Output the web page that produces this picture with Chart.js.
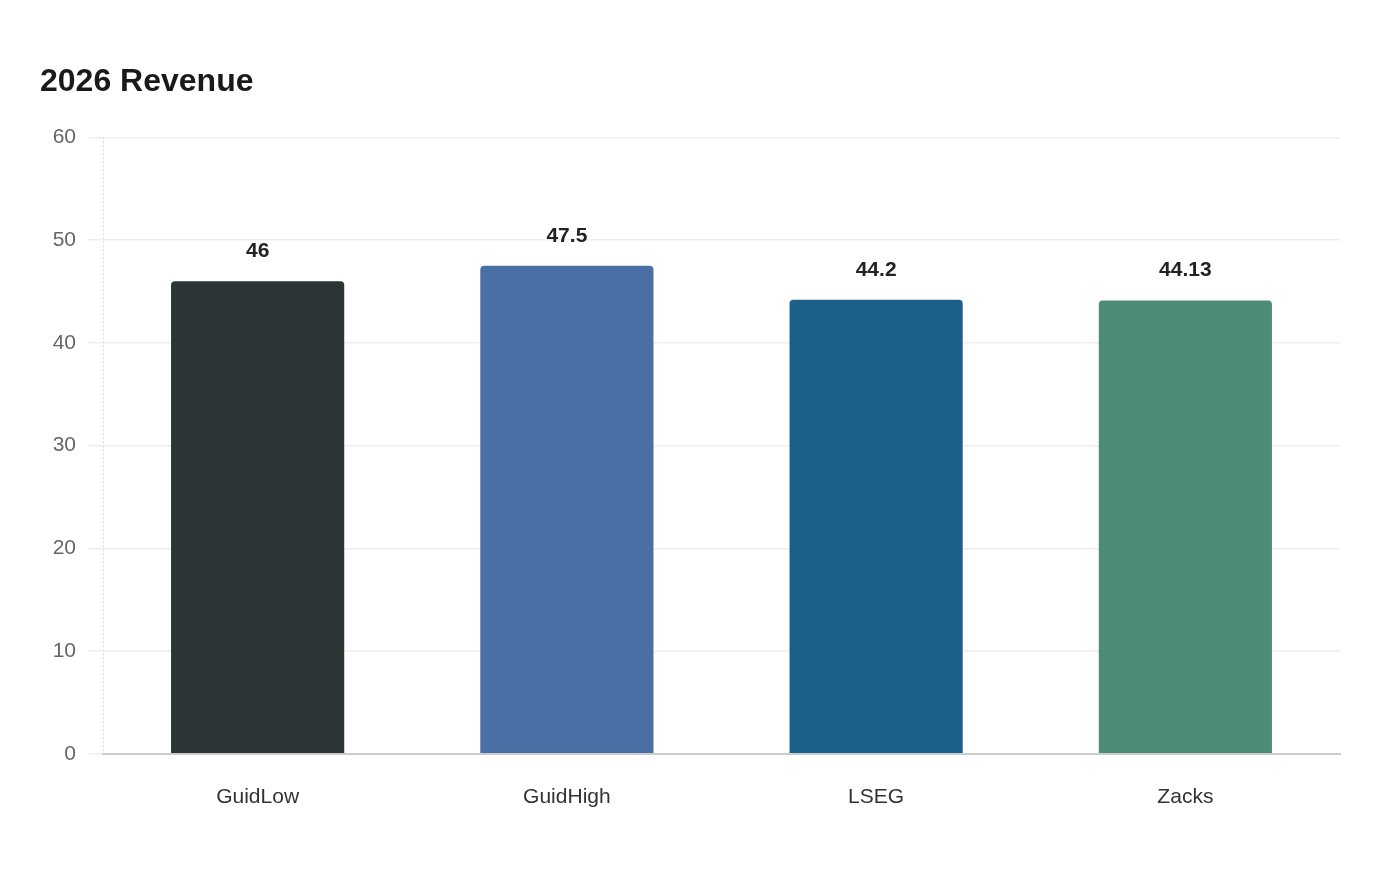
<!DOCTYPE html>
<html><head><meta charset="utf-8">
<script src="https://cdn.jsdelivr.net/npm/chart.js@4.4.0/dist/chart.umd.min.js"></script>
<style>html,body{margin:0;padding:0;background:#fff}#wrap{width:1400px;height:880px}</style>
</head><body><div id="wrap"><canvas id="c"></canvas></div>
<script>
const categories = ["GuidLow", "GuidHigh", "LSEG", "Zacks"];
const revenue = [46, 47.5, 44.2, 44.13];
const barColors = ["#2d3436", "#4a6fa5", "#1a6088", "#4e8c7a"];
const yTicks = [0, 10, 20, 30, 40, 50, 60];
const FONT = '"Liberation Sans", Arial, sans-serif';

const valueLabels = {
  id: 'valueLabels',
  beforeDatasetsDraw(chart) {
    const ctx = chart.ctx, a = chart.chartArea;
    ctx.save();
    ctx.strokeStyle = '#d8d8d8';
    ctx.lineWidth = 1;
    ctx.setLineDash([2, 2]);
    ctx.beginPath();
    ctx.moveTo(a.left + 0.5, a.top);
    ctx.lineTo(a.left + 0.5, a.bottom);
    ctx.stroke();
    ctx.restore();
  },
  afterDatasetsDraw(chart) {
    const ctx = chart.ctx;
    const meta = chart.getDatasetMeta(0);
    ctx.save();
    ctx.font = 'bold 21px ' + FONT;
    ctx.fillStyle = '#222';
    ctx.textAlign = 'center';
    ctx.textBaseline = 'middle';
    meta.data.forEach((bar, i) => {
      ctx.fillText(String(chart.data.datasets[0].data[i]), bar.x, bar.y - 30);
    });
    ctx.restore();
  }
};

new Chart(document.getElementById('c'), {
  type: 'bar',
  data: {
    labels: categories,
    datasets: [{
      data: revenue,
      backgroundColor: barColors,
      borderRadius: {topLeft: 4, topRight: 4, bottomLeft: 0, bottomRight: 0},
      borderSkipped: 'bottom',
      barPercentage: 0.56,
      categoryPercentage: 1
    }]
  },
  options: {
    responsive: true,
    maintainAspectRatio: false,
    animation: false,
    layout: {padding: {left: 40, right: 60, top: 63, bottom: 47}},
    plugins: {
      legend: {display: false},
      tooltip: {enabled: false},
      title: {
        display: true, text: '2026 Revenue', align: 'start',
        color: '#1a1a1a',
        font: {family: FONT, size: 32, weight: 'bold'},
        padding: {top: 0, bottom: 36}
      }
    },
    scales: {
      x: {
        grid: {display: false},
        border: {display: true, color: '#cccccc', width: 2},
        ticks: {color: '#333', font: {family: FONT, size: 21}, padding: 23}
      },
      y: {
        min: 0, max: 60,
        afterBuildTicks(axis) { axis.ticks = yTicks.map(v => ({value: v})); },
        afterFit(axis) { axis.width = 63; },
        grid: {color: '#eeeeee', lineWidth: 1.5, tickLength: 15},
        border: {display: false},
        ticks: {color: '#666', font: {family: FONT, size: 21}, padding: 12}
      }
    }
  },
  plugins: [valueLabels]
});
</script></body></html>
